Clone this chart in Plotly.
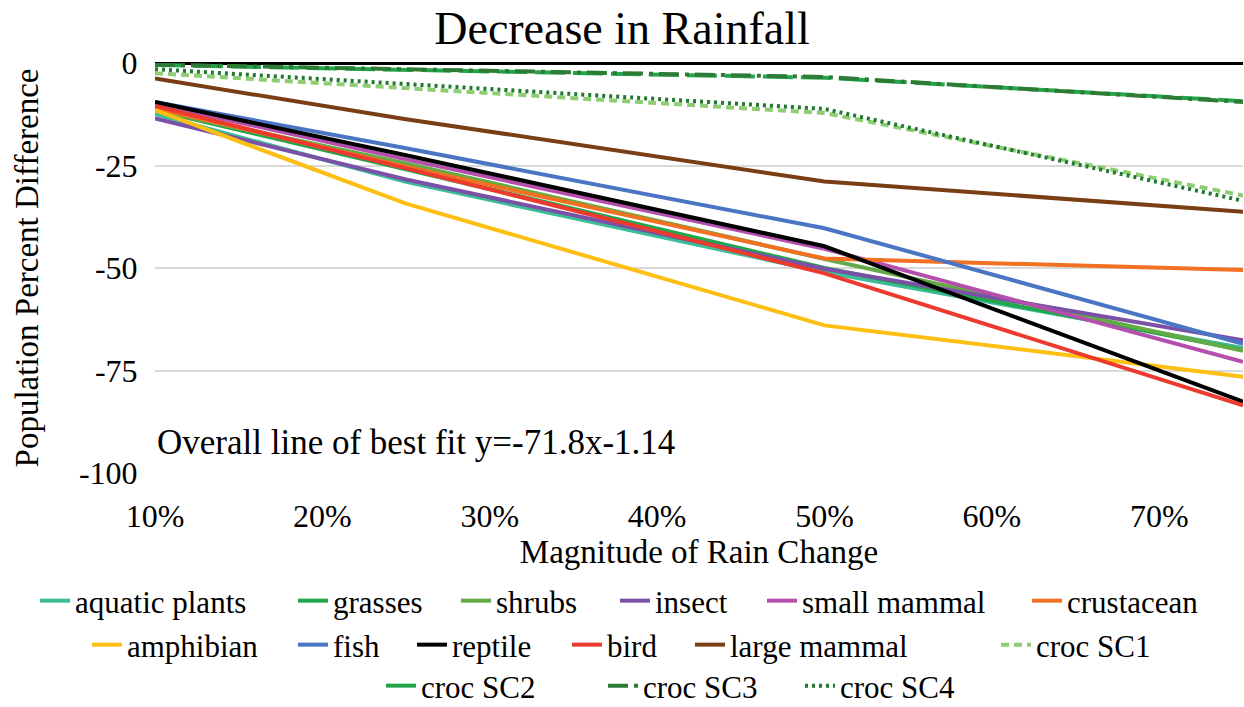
import plotly.graph_objects as go

# ---- data ----
rain_change = [0.10, 0.25, 0.50, 0.75]

aquatic_plants = [-12.5, -29.0, -51.0, -69.5]
grasses = [-11.5, -26.0, -50.0, -70.0]
shrubs = [-11.5, -24.5, -47.8, -70.2]
insect = [-13.5, -28.4, -50.2, -67.6]
small_mammal = [-10.0, -23.5, -45.3, -72.9]
crustacean = [-11.0, -25.3, -47.7, -50.5]
amphibian = [-11.5, -34.3, -64.0, -76.5]
fish = [-9.5, -20.8, -40.3, -68.5]
reptile = [-9.5, -22.5, -44.7, -82.6]
bird = [-10.5, -25.7, -51.3, -83.5]
large_mammal = [-3.8, -13.7, -28.9, -36.3]
croc_sc1 = [-2.5, -6.2, -12.2, -32.3]
croc_sc2 = [-0.5, -1.6, -3.6, -9.3]
croc_sc3 = [-0.4, -1.5, -3.4, -9.5]
croc_sc4 = [-1.5, -5.2, -11.2, -33.6]

x_ticks = [0.1, 0.2, 0.3, 0.4, 0.5, 0.6, 0.7]
x_tick_labels = ["10%", "20%", "30%", "40%", "50%", "60%", "70%"]
y_ticks = [0, -25, -50, -75, -100]
y_tick_labels = ["0", "-25", "-50", "-75", "-100"]

# name, values, colour, dash, legend row, legend text start (px)
series = [
    ("aquatic plants", aquatic_plants, "#3dbd97", "solid", 0, 75),
    ("grasses", grasses, "#23a64b", "solid", 0, 333),
    ("shrubs", shrubs, "#63ab46", "solid", 0, 496),
    ("insect", insect, "#7a51a7", "solid", 0, 655),
    ("small mammal", small_mammal, "#b54fad", "solid", 0, 802),
    ("crustacean", crustacean, "#f27022", "solid", 0, 1067),
    ("amphibian", amphibian, "#fdbf12", "solid", 1, 127),
    ("fish", fish, "#4a75c5", "solid", 1, 333),
    ("reptile", reptile, "#000000", "solid", 1, 452),
    ("bird", bird, "#ec3b2e", "solid", 1, 607),
    ("large mammal", large_mammal, "#7a3e14", "solid", 1, 730),
    ("croc SC1", croc_sc1, "#8fcd72", "8px,5px", 1, 1036),
    ("croc SC2", croc_sc2, "#23a64b", "30px,8px", 2, 421),
    ("croc SC3", croc_sc3, "#2e7b36", "20px,6px,4px,6px", 2, 643),
    ("croc SC4", croc_sc4, "#1f7a30", "3px,4px", 2, 840),
]
legend_row_px = [601, 645, 686]

FONT = "Liberation Serif"
W, H = 1244, 707
L, R, T, B = 155, 1, 63, 234

fig = go.Figure()
legends = {}
for i, (name, vals, color, dash, row, tx) in enumerate(series):
    key = "legend" if i == 0 else f"legend{i + 1}"
    fig.add_trace(go.Scatter(
        x=rain_change, y=vals, name=name, mode="lines",
        line=dict(color=color, width=4, dash=dash),
        legend=key, showlegend=True,
    ))
    legends[key] = dict(
        orientation="h", xanchor="left", yanchor="middle",
        xref="container", yref="container",
        x=(tx - 40) / W, y=1 - legend_row_px[row] / H,
        font=dict(family=FONT, size=31, color="black"),
        bgcolor="rgba(0,0,0,0)", borderwidth=0,
    )

fig.update_layout(
    width=W, height=H, showlegend=True,
    margin=dict(l=L, r=R, t=T, b=B, autoexpand=False),
    paper_bgcolor="white", plot_bgcolor="white",
    font=dict(family=FONT, color="black"),
    title=dict(text="Decrease in Rainfall", x=0.5, xref="container",
               y=1 - 28 / H, yref="container", yanchor="middle",
               xanchor="center", font=dict(family=FONT, size=46, color="black")),
    xaxis=dict(
        range=[0.1, 0.75], tickvals=x_ticks, ticktext=x_tick_labels,
        showgrid=False, zeroline=False, showline=False,
        ticks="outside", ticklen=15, tickcolor="rgba(0,0,0,0)",
        tickfont=dict(family=FONT, size=32, color="black"),
        title=dict(text="Magnitude of Rain Change", standoff=4,
                   font=dict(family=FONT, size=33, color="black")),
    ),
    yaxis=dict(
        range=[-100, 0], tickvals=y_ticks, ticktext=y_tick_labels,
        showgrid=True, gridcolor="#d9d9d9", gridwidth=2,
        zeroline=True, zerolinecolor="black", zerolinewidth=2.5,
        showline=False,
        ticks="outside", ticklen=10, tickcolor="rgba(0,0,0,0)",
        tickfont=dict(family=FONT, size=32, color="black"),
        title=dict(text="Population Percent Difference", standoff=30,
                   font=dict(family=FONT, size=33, color="black")),
    ),
    annotations=[dict(
        text="Overall line of best fit y=-71.8x-1.14",
        xref="paper", x=0, xanchor="left", xshift=0,
        yref="y", y=-92.5, yanchor="middle", showarrow=False,
        font=dict(family=FONT, size=35, color="black"),
    )],
    **legends,
)

fig.write_html(
    "out.html",
    config={"displayModeBar": False},
    post_script="document.body.style.margin='0';document.body.style.overflow='hidden';",
)
